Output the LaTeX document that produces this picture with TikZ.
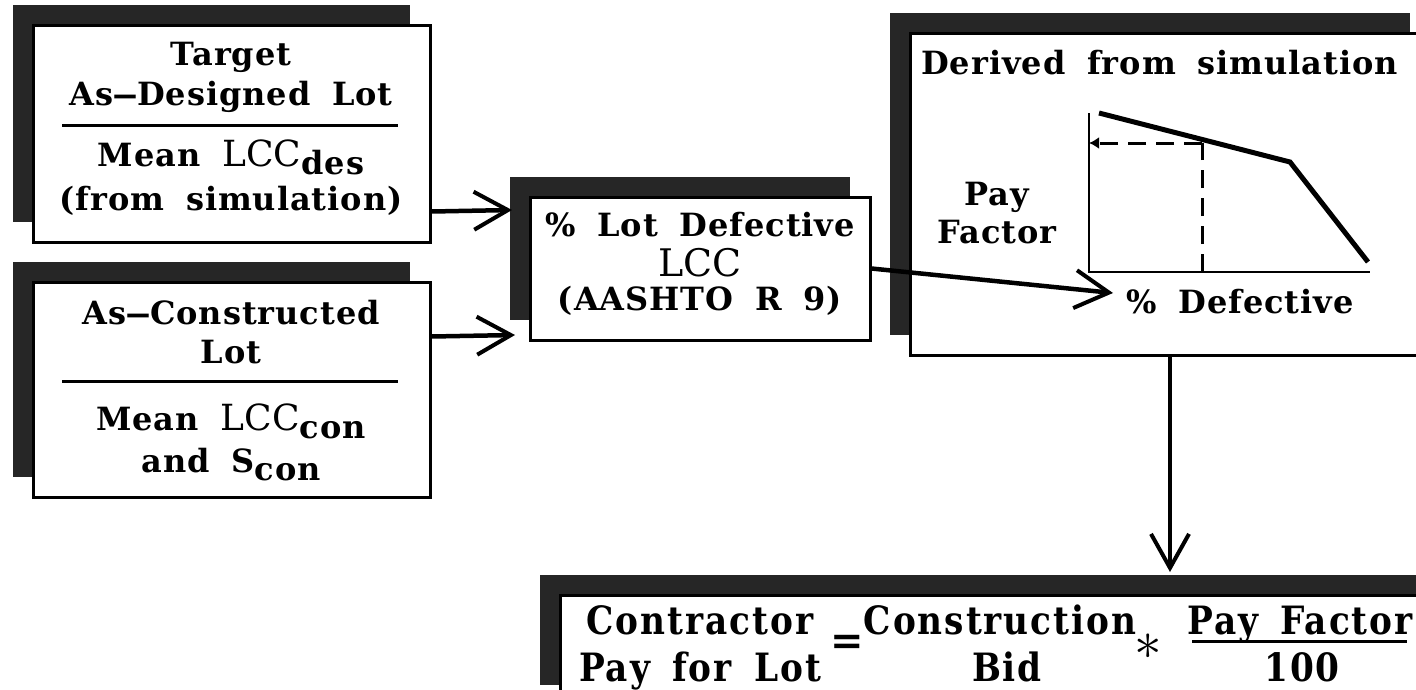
\documentclass[tikz,border=0pt]{standalone}
\usepackage{fontspec}
\setmainfont{DejaVu Serif}
\newfontfamily\slabf{DejaVu Serif}[LetterSpace=3, WordSpace=1.8]
\newfontfamily\slabc{DejaVu Serif}[FakeStretch=0.88, LetterSpace=5, WordSpace=1.6]
\usetikzlibrary{arrows.meta,shadows}
\newcommand{\mydash}{\scalebox{0.75}[1]{\textemdash}}
\begin{document}
\begin{tikzpicture}[x=1pt,y=-1pt,
  box/.style={draw, line width=3pt, fill=white, inner sep=0pt,
    general shadow={fill=black!85, shadow xshift=-20pt, shadow yshift=20pt}},
  arr/.style={line width=4.5pt, -{Straight Barb[length=34pt,width=38pt,line width=4pt]}},
  txt/.style={font=\slabf\fontsize{32}{34}\selectfont\bfseries, inner sep=0pt},
  lcc/.style={font=\rmfamily\fontsize{38}{40}\selectfont\mdseries, inner sep=0pt},
  ctxt/.style={font=\slabc\fontsize{39}{41}\selectfont\bfseries, inner sep=0pt, anchor=base},
  rule/.style={line width=3pt},
]
\path[use as bounding box, clip] (0,0) rectangle (1416,689);
\fill[white] (0,0) rectangle (1416,689);

% boxes
\node[box, minimum width=397pt, minimum height=217pt] (b1) at (231.5,133.5) {};
\node[box, minimum width=397pt, minimum height=215pt] (b2) at (231.5,389.5) {};
\node[box, minimum width=340pt, minimum height=143pt] (b3) at (700,268.5) {};
\node[box, minimum width=520pt, minimum height=322pt] (b4) at (1170,194) {};
\node[box, minimum width=876pt, minimum height=110pt] (b5) at (998,650) {};

% box 1
\node[txt] (t1a) at (231,57) {Target};
\node[txt] (t1b) at (231,97) {As\mydash Designed Lot};
\draw[rule] (62,125) -- (398,125);
\node[txt] (t1c) at (231,157) {Mean {\rmfamily\fontsize{36}{38}\selectfont\mdseries LCC}\raisebox{-8pt}{des}};
\node[txt] (t1d) at (231,201) {(from simulation)};

% box 2
\node[txt] (t2a) at (231,313) {As\mydash Constructed};
\node[txt] (t2b) at (231,352) {Lot};
\draw[rule] (62,381) -- (398,381);
\node[txt] (t2c) at (231,421) {Mean {\rmfamily\fontsize{36}{38}\selectfont\mdseries LCC}\raisebox{-8pt}{con}};
\node[txt] (t2d) at (231,465) {and S\raisebox{-8pt}{con}};

% box 3
\node[txt] (t3a) at (700,225) {\% Lot Defective};
\node[lcc] (t3b) at (700,263) {LCC};
\node[txt] (t3c) at (700,301) {(AASHTO R 9)};

% box 4
\node[txt, anchor=west] (t4a) at (921,63) {Derived from simulation};
\node[txt] (t4b) at (997,197) {Pay};
\node[txt] (t4c) at (997,232) {Factor};
\node[txt] (t4d) at (1240,302) {\% Defective};
\draw[line width=2.5pt] (1089,113) -- (1089,272) -- (1370,272);
\draw[line width=5pt] (1099,113) -- (1290,162) -- (1368,262);
\draw[line width=3pt, dash pattern=on 18pt off 10pt] (1202,272) -- (1202,143);
\draw[line width=3pt, dash pattern=on 18pt off 10pt, -{Latex[length=10pt,width=12pt]}] (1202,143) -- (1089,143);

% box 5
\node[ctxt] (f1) at (700,634) {Contractor};
\node[ctxt] (f2) at (700,681) {Pay for Lot};
\node[font=\fontsize{40}{40}\selectfont\bfseries, inner sep=0pt] (f3) at (847,645) {=};
\node[ctxt] (f4) at (1000,634) {Construction};
\node[ctxt] (f5) at (1007,681) {Bid};
\node[inner sep=0pt] (f6) at (1148,647) {\scalebox{5.5}{$\ast$}};
\node[ctxt] (f7) at (1300,634) {Pay Factor};
\draw[rule] (1192,641) -- (1407,641);
\node[ctxt] (f8) at (1302,681) {100};

% connectors
\coordinate (h1) at (512,210);
\coordinate (h2) at (515,335);
\coordinate (h3) at (1113,293);
\coordinate (h4) at (1170,572);
\draw[arr] ([yshift=32pt]b1.south east) -- (h1);
\draw[arr] ([yshift=162pt]b2.south east) -- (h2);
\draw[arr] (b3.east) -- (h3);
\draw[arr] (b4.south) -- (h4);
\end{tikzpicture}
\end{document}
